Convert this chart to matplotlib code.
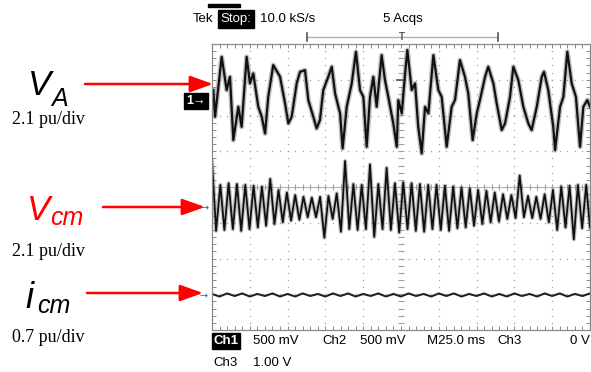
import numpy as np
import matplotlib
matplotlib.use("Agg")
import matplotlib.pyplot as plt
from matplotlib.patches import FancyArrowPatch, Rectangle
from matplotlib.lines import Line2D

# scope settings
ms_per_div = 25.0
va_pu_per_div = 2.1
vcm_pu_per_div = 2.1
icm_pu_per_div = 0.7
va_pos_div = 2.43
vcm_pos_div = -0.56
icm_pos_div = -3.02

# V_A trace (time in ms, value in pu)
va_t = [0.9, 2.0, 4.2, 6.4, 9.7, 11.9, 14.1, 17.4, 19.6, 22.9, 25.1, 27.3, 30.6,
        32.9, 35.1, 37.2, 40.5, 45.0, 48.3, 50.5, 52.7, 56.0, 58.2, 61.5, 63.7,
        67.0, 69.2, 71.4, 73.6, 76.9, 79.2, 81.4, 84.7, 86.4, 89.1, 92.4, 95.2,
        97.9, 100.1, 102.3, 104.5, 106.7, 108.9, 112.2, 114.4, 116.6, 119.9,
        122.2, 123.2, 125.5, 127.7, 129.2, 132.1, 134.3, 136.4, 138.7, 140.9,
        143.1, 146.4, 149.7, 151.9, 155.2, 158.5, 160.7, 164.0, 167.3, 169.5,
        172.4, 175.1, 177.2, 180.6, 182.7, 186.1, 188.3, 191.6, 193.8, 197.1,
        199.3, 202.6, 205.9, 209.2, 211.4, 214.8, 218.1, 219.6, 222.4, 225.7,
        226.9, 230.2, 232.4, 235.0, 237.9, 240.7, 243.4, 245.6, 248.2, 250.0]
va_pu = [0.59, -0.98, 0.78, 2.54, 0.59, 1.37, -2.35, -0.39, -1.57, 2.54, 0.98,
         1.57, -0.39, -0.98, -1.96, 0.19, 2.06, 1.37, -0.19, -1.37, -0.98, 0.98,
         1.66, 1.76, 0.0, -0.98, -1.66, -1.17, 0.59, 1.37, 1.96, 0.39, -0.78,
         -2.84, -0.39, 0.98, 2.84, 0.59, 0.19, -2.74, 0.19, 1.37, -0.39, 2.64,
         1.17, 0.19, -1.37, -2.74, 0.0, -0.78, 1.57, 2.94, 0.59, 0.98, -1.57,
         -3.13, -0.39, -0.78, 2.64, 0.59, 0.19, -2.74, -0.39, 0.0, 2.35, 1.37,
         0.39, -2.35, -0.78, 0.0, 1.37, 1.96, 0.98, -0.19, -1.76, -1.37, 0.19,
         1.96, 1.17, -0.39, -1.37, -1.76, -0.39, 1.37, 1.66, 0.59, -1.57, -2.94,
         -0.39, 0.19, 2.84, 0.98, 0.19, -2.74, -0.39, 0.0, -0.39]

# V_cm trace, peaks and troughs (time in ms, value in pu)
vcm_t = [0.0, 2.7, 5.5, 8.2, 11.0, 13.8, 16.5, 19.3, 22.0, 24.8, 27.5, 30.3,
         33.0, 35.8, 38.5, 41.3, 44.0, 46.8, 49.5, 52.3, 55.0, 57.8, 60.5, 63.3,
         66.0, 68.8, 71.5, 74.3, 77.0, 79.8, 82.5, 85.3, 88.0, 90.8, 93.5, 96.3,
         99.0, 101.8, 104.5, 107.3, 110.0, 112.8, 115.5, 118.3, 121.0, 123.8,
         126.5, 129.3, 132.0, 134.8, 137.5, 140.3, 143.0, 145.8, 148.5, 151.3,
         154.0, 156.8, 159.5, 162.3, 165.0, 167.8, 170.5, 173.3, 176.0, 178.8,
         181.5, 184.3, 187.0, 189.8, 192.5, 195.3, 198.0, 200.8, 203.5, 206.3,
         209.0, 211.8, 214.5, 217.3, 220.0, 222.8, 225.5, 228.3, 231.0, 233.8,
         236.5, 239.3, 242.0, 244.8, 247.5, 250.0]
vcm_pu = [2.7, -1.4, 1.3, -1.35, 1.4, -1.3, 1.35, -1.4, 1.3, -1.3, 1.25, -1.2,
          1.2, -1.1, 1.65, -1.0, 1.0, -0.9, 0.85, -0.8, 0.7, -0.75, 0.6, -0.6,
          0.55, -0.6, 0.6, -1.8, 0.65, -0.7, 0.8, -1.45, 2.7, -1.3, 1.35, -1.35,
          1.3, -1.3, 2.5, -1.75, 1.35, -1.3, 2.3, -1.35, 1.4, -1.5, 1.45, -1.3,
          1.4, -1.4, 1.35, -1.45, 1.3, -1.3, 1.3, -1.35, 1.25, -1.4, 1.2, -1.25,
          1.15, -1.2, 1.1, -1.1, 1.0, -1.0, 0.95, -0.9, 0.85, -0.85, 0.75, -0.7,
          0.7, -0.65, 1.85, -0.6, 0.65, -0.65, 0.6, -0.7, 0.75, -0.9, 1.0, -1.35,
          1.2, -1.2, 1.25, -1.9, 1.3, -1.25, 1.3, -1.2]

# i_cm trace (time in ms, value in pu)
icm_t = [0, 5, 10, 15, 20, 25, 30, 35, 40, 45, 50, 55, 60, 65, 70, 75, 80, 85,
         90, 95, 100, 105, 110, 115, 120, 125, 130, 135, 140, 145, 150, 155, 160,
         165, 170, 175, 180, 185, 190, 195, 200, 205, 210, 215, 220, 225, 230,
         235, 240, 245, 250]
icm_pu = [0.02, -0.03, 0.03, -0.02, 0.03, -0.03, 0.02, -0.02, 0.03, -0.03, 0.02,
          -0.03, 0.03, -0.02, 0.02, -0.03, 0.03, -0.02, 0.03, -0.03, 0.02, -0.02,
          0.03, -0.03, 0.02, -0.03, 0.03, -0.02, 0.02, -0.03, 0.03, -0.02, 0.03,
          -0.03, 0.02, -0.02, 0.03, -0.03, 0.02, -0.03, 0.03, -0.02, 0.02, -0.03,
          0.03, -0.02, 0.03, -0.03, 0.02, -0.02, 0.03]

scope_font = ["Liberation Sans"]
scope_size = 9.5

fig = plt.figure(figsize=(5.91, 3.72), dpi=100)
fig.patch.set_facecolor("white")

ax = fig.add_axes([212 / 591, 42 / 372, 378 / 591, 286 / 372])
ax.set_xlim(0, 10 * ms_per_div)
ax.set_ylim(-4, 4)
for sp in ax.spines.values():
    sp.set_color("#8a8a8a")
    sp.set_linewidth(0.9)
ax.set_xticks(np.arange(0, 250.1, 5))
ax.set_yticks(np.arange(-4, 4.01, 0.2))
ax.tick_params(direction="in", length=3, color="#8a8a8a", width=0.7,
               top=True, right=True, labelbottom=False, labelleft=False)

# graticule
grid_c = "#a0a0a0"
ys = np.arange(-4, 4.01, 0.2)
xs = np.arange(0, 250.1, 5)
for k in range(1, 10):
    if k == 5:
        continue
    ax.plot(np.full_like(ys, k * ms_per_div), ys, ls="none", marker="s",
            ms=0.9, color=grid_c, mew=0)
for k in range(-3, 4):
    if k == 0:
        continue
    ax.plot(xs, np.full_like(xs, k), ls="none", marker="s", ms=0.9,
            color=grid_c, mew=0)
ax.axhline(0, color="#b5b5b5", lw=0.8)
ax.plot(xs, np.zeros_like(xs), ls="none", marker="|", ms=5, color=grid_c, mew=0.8)
ax.plot(np.full_like(ys, 125), ys, ls="none", marker="_", ms=5, color=grid_c, mew=0.8)
ax.plot([125], [3.0], marker="_", ms=7, color="#555555", mew=1.2)

# traces
va_div = np.array(va_pu) / va_pu_per_div + va_pos_div
vcm_div = np.array(vcm_pu) / vcm_pu_per_div + vcm_pos_div
icm_div = np.array(icm_pu) / icm_pu_per_div + icm_pos_div
ax.plot(va_t, va_div, color="#8c8c8c", lw=3.6, alpha=0.55, solid_joinstyle="round")
ax.plot(va_t, va_div, color="#111111", lw=1.6)
ax.plot(vcm_t, vcm_div, color="#8c8c8c", lw=3.0, alpha=0.55)
ax.plot(vcm_t, vcm_div, color="#111111", lw=1.3)
ax.plot(icm_t, icm_div, color="#222222", lw=1.5)

# header
fig.text(193 / 591, 1 - 19 / 372, "Tek", family=scope_font, fontsize=scope_size,
         va="center", ha="left")
fig.text(236 / 591, 1 - 19 / 372, "Stop:", family=scope_font, fontsize=scope_size,
         va="center", ha="center", color="white",
         bbox=dict(boxstyle="square,pad=0.2", fc="black", ec="black"))
fig.add_artist(Rectangle((208 / 591, 1 - 7 / 372), 32 / 591, 3 / 372,
                         transform=fig.transFigure, color="black"))
fig.text(260 / 591, 1 - 19 / 372, "10.0 kS/s", family=scope_font, fontsize=scope_size,
         va="center", ha="left")
fig.text(383 / 591, 1 - 19 / 372, "5 Acqs", family=scope_font, fontsize=scope_size,
         va="center", ha="left")
by = 1 - 37 / 372
fig.add_artist(Line2D([307 / 591, 498 / 591], [by, by], transform=fig.transFigure,
                      color="#b0b0b0", lw=1.0))
for bx in (307, 498):
    fig.add_artist(Line2D([bx / 591, bx / 591], [by - 4 / 372, by + 4 / 372],
                          transform=fig.transFigure, color="#555555", lw=1.2))
fig.text(402 / 591, by, "T", family=scope_font, fontsize=7, ha="center",
         va="center", color="#555555", fontweight="bold")

# footer
r1 = 1 - 341 / 372
r2 = 1 - 363 / 372
fig.text(226 / 591, r1, "Ch1", family=scope_font, fontsize=scope_size, ha="center",
         va="center", color="white", fontweight="bold",
         bbox=dict(boxstyle="square,pad=0.12", fc="black", ec="black"))
footer = [(253, r1, "500 mV"), (322, r1, "Ch2"), (360, r1, "500 mV"),
          (427, r1, "M25.0 ms"), (497, r1, "Ch3"), (213, r2, "Ch3"),
          (253, r2, "1.00 V")]
for fx, fy, s in footer:
    fig.text(fx / 591, fy, s, family=scope_font, fontsize=scope_size, ha="left",
             va="center")
fig.text(590 / 591, r1, "0 V", family=scope_font, fontsize=scope_size, ha="right",
         va="center")

# channel markers
fig.text(196 / 591, 1 - 101 / 372, "1\u2192", family=scope_font, fontsize=9,
         ha="center", va="center", color="white", fontweight="bold",
         bbox=dict(boxstyle="square,pad=0.15", fc="black", ec="black"))
fig.text(205 / 591, 1 - 208 / 372, "\u2192", fontsize=7, ha="center",
         va="center", color="#4060a0")
fig.text(204 / 591, 1 - 296 / 372, "\u2192", fontsize=7, ha="center",
         va="center", color="#4060a0")

# labels on the left
lab_font = ["Liberation Sans", "DejaVu Sans"]
fig.text(28 / 591, 1 - 95 / 372, "V", family=lab_font, style="italic",
         fontsize=25, va="baseline", ha="left")
fig.text(51 / 591, 1 - 106 / 372, "A", family=lab_font, style="italic",
         fontsize=18, va="baseline", ha="left")
fig.text(27 / 591, 1 - 220 / 372, "V", family=lab_font, style="italic",
         fontsize=25, va="baseline", ha="left", color="red")
fig.text(50 / 591, 1 - 225 / 372, "cm", family=lab_font, style="italic",
         fontsize=18, va="baseline", ha="left", color="red")
fig.text(25 / 591, 1 - 308 / 372, "i", family=lab_font, style="italic",
         fontsize=26, va="baseline", ha="left")
fig.text(37 / 591, 1 - 313 / 372, "cm", family=lab_font, style="italic",
         fontsize=18, va="baseline", ha="left")
for yy, s in ((120, "2.1 pu/div"), (251, "2.1 pu/div"), (337, "0.7 pu/div")):
    fig.text(12 / 591, 1 - yy / 372, s, family=["Liberation Serif"],
             fontsize=13, ha="left", va="center")

# red arrows
for x0, x1, yy in ((85, 213, 84), (103, 205, 207), (87, 203, 293)):
    arr = FancyArrowPatch((x0 / 591, 1 - yy / 372), (x1 / 591, 1 - yy / 372),
                          transform=fig.transFigure,
                          arrowstyle="-|>,head_length=1.4,head_width=0.5",
                          mutation_scale=10, color="red", lw=1.8,
                          shrinkA=0, shrinkB=0)
    fig.add_artist(arr)

fig.savefig("out.png", dpi=100)
